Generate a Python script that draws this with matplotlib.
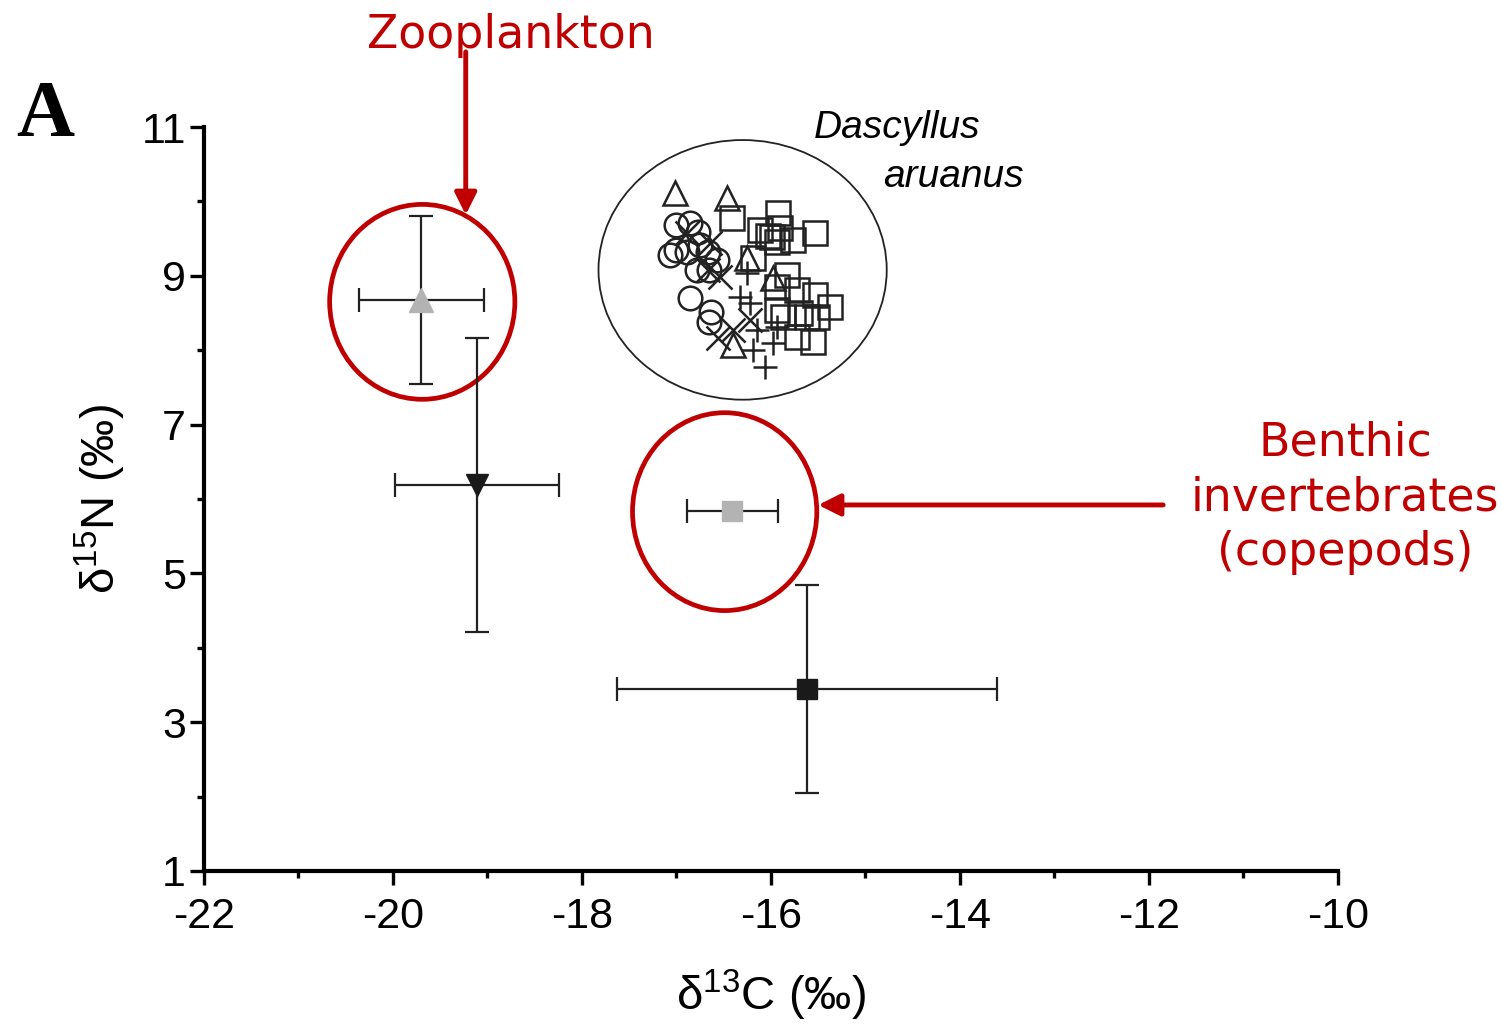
import numpy as np
import matplotlib
matplotlib.use("Agg")
import matplotlib.pyplot as plt
from matplotlib.patches import Ellipse

plt.rcParams['font.family'] = ['Liberation Sans', 'DejaVu Sans']
plt.rcParams['mathtext.fontset'] = 'custom'
plt.rcParams['mathtext.rm'] = 'Liberation Sans'
plt.rcParams['axes.unicode_minus'] = False

# source means with SD (d13C, d15N)
zoo_x, zoo_y, zoo_xerr, zoo_yerr = -19.70, 8.67, 0.66, 1.13
pom_x, pom_y, pom_xerr, pom_yerr = -19.11, 6.19, 0.87, 1.98
benth_x, benth_y, benth_xerr = -16.41, 5.84, 0.48
sed_x, sed_y, sed_xerr, sed_yerr = -15.62, 3.45, 2.01, 1.40

# Dascyllus aruanus individuals, by group
tri_x = [-17.02, -16.46, -16.25, -15.98, -16.40]
tri_y = [10.11, 10.05, 9.24, 8.97, 8.07]
circ_x = [-17.00, -16.86, -16.77, -17.00, -16.89, -16.67, -16.57, -16.78, -16.66,
          -16.86, -16.63, -16.66, -17.07, -16.75]
circ_y = [9.68, 9.71, 9.59, 9.35, 9.32, 9.32, 9.21, 9.08, 9.08,
          8.70, 8.51, 8.38, 9.28, 9.41]
sq_x = [-16.41, -15.93, -15.53, -16.12, -15.99, -15.94, -15.77, -16.19, -15.83, -15.94,
        -15.72, -15.53, -15.38, -15.94, -15.69, -15.51, -15.72, -15.56, -15.87, -15.62,
        -16.03, -15.90]
sq_y = [9.78, 9.84, 9.58, 9.62, 9.52, 9.45, 9.48, 9.24, 9.01, 8.85,
        8.81, 8.74, 8.58, 8.54, 8.50, 8.45, 8.18, 8.11, 8.45, 8.44,
        9.54, 9.64]
x_x = [-16.89, -16.67, -16.54, -16.56, -16.22, -16.40, -16.65]
x_y = [9.58, 9.08, 8.98, 8.16, 8.41, 8.27, 9.44]
plus_x = [-16.25, -16.22, -16.15, -15.98, -16.19, -16.06, -16.33, -15.94]
plus_y = [9.04, 8.63, 8.27, 8.10, 8.00, 7.77, 8.72, 8.31]

red = '#C00000'

fig = plt.figure(figsize=(15.03, 10.31), dpi=100)
ax = fig.add_axes([0.1357, 0.1552, 0.7545, 0.7216])

ebkw = dict(ecolor='#222222', elinewidth=1.6, capsize=8.5, capthick=1.6, linestyle='none', zorder=3)
ax.errorbar(zoo_x, zoo_y, xerr=zoo_xerr, yerr=zoo_yerr, marker='^', ms=17,
            mfc='#b3b3b3', mec='#b3b3b3', **ebkw)
ax.errorbar(pom_x, pom_y, xerr=pom_xerr, yerr=pom_yerr, marker='v', ms=16,
            mfc='#1a1a1a', mec='#1a1a1a', **ebkw)
ax.errorbar(benth_x, benth_y, xerr=benth_xerr, marker='s', ms=15,
            mfc='#b3b3b3', mec='#b3b3b3', **ebkw)
ax.errorbar(sed_x, sed_y, xerr=sed_xerr, yerr=sed_yerr, marker='s', ms=15,
            mfc='#1a1a1a', mec='#1a1a1a', **ebkw)

mk = dict(linestyle='none', mfc='none', mec='#222222', mew=1.8, ms=17, zorder=4)
ax.plot(circ_x, circ_y, marker='o', **mk)
ax.plot(sq_x, sq_y, marker='s', **mk)
ax.plot(tri_x, tri_y, marker='^', **mk)
ax.plot(x_x, x_y, marker='x', **mk)
ax.plot(plus_x, plus_y, marker='+', **mk)

# group outlines
ax.add_patch(Ellipse((-16.30, 9.08), 3.05, 3.49, fill=False, ec='#222222', lw=1.3))
ax.add_patch(Ellipse((-19.69, 8.65), 1.96, 2.62, fill=False, ec=red, lw=3.4))
ax.add_patch(Ellipse((-16.49, 5.83), 1.95, 2.66, fill=False, ec=red, lw=3.4))

ax.text(-14.66, 10.99, 'Dascyllus', style='italic', fontsize=28, ha='center', va='center')
ax.text(-14.07, 10.33, 'aruanus', style='italic', fontsize=28, ha='center', va='center')

ax.set_xlim(-22, -10)
ax.set_ylim(1, 11)
ax.set_xticks(np.arange(-22, -9, 2))
ax.set_yticks([1, 3, 5, 7, 9, 11])
ax.set_xticks(np.arange(-21, -10, 2), minor=True)
ax.set_yticks(np.arange(2, 11, 2), minor=True)
for s in ['top', 'right']:
    ax.spines[s].set_visible(False)
for s in ['left', 'bottom']:
    ax.spines[s].set_linewidth(3)
ax.tick_params(which='major', direction='out', length=10, width=2.4, labelsize=31)
ax.tick_params(axis='x', which='major', pad=9)
ax.tick_params(axis='y', which='major', pad=3)
ax.tick_params(which='minor', direction='out', length=5, width=2.4)
ax.set_xlabel('δ$^{13}$C (‰)', fontsize=34, labelpad=22)
ax.set_ylabel('δ$^{15}$N (‰)', fontsize=34, labelpad=10)

# annotations
fig.text(0.030, 0.887, 'A', family='Liberation Serif', weight='bold', fontsize=58,
         ha='center', va='center')
fig.text(0.340, 0.966, 'Zooplankton', color=red, fontsize=33, ha='center', va='center',
         family='DejaVu Sans')
ax.annotate('', xy=(-19.23, 9.82), xytext=(-19.23, 12.01), annotation_clip=False,
            arrowprops=dict(arrowstyle='-|>,head_length=0.6,head_width=0.3', color=red, lw=3.5,
                            mutation_scale=22, shrinkA=0, shrinkB=0))
fig.text(0.895, 0.517, 'Benthic\ninvertebrates\n(copepods)', color=red, fontsize=33,
         ha='center', va='center', linespacing=1.28, family='DejaVu Sans')
ax.annotate('', xy=(-15.50, 5.92), xytext=(-11.85, 5.92), annotation_clip=False,
            arrowprops=dict(arrowstyle='-|>,head_length=0.6,head_width=0.3', color=red, lw=3.5,
                            mutation_scale=22, shrinkA=0, shrinkB=0))

fig.savefig('out.png', dpi=100)
